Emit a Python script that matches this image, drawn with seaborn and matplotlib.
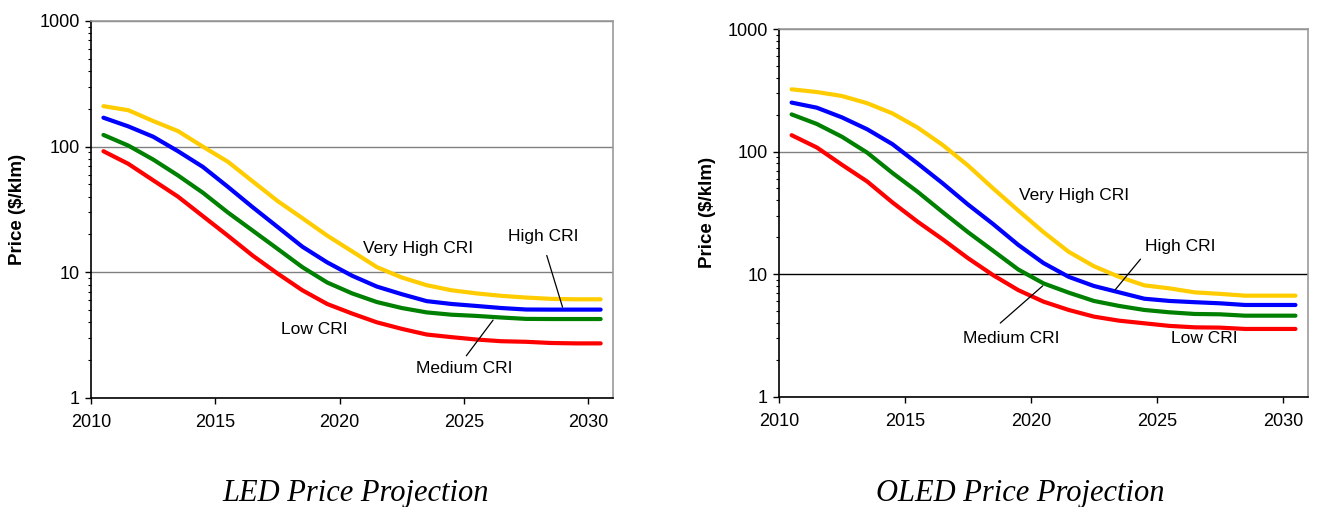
import numpy as np
import pandas as pd
import matplotlib
matplotlib.use("Agg")
import matplotlib.pyplot as plt
import seaborn as sns
from matplotlib.ticker import LogLocator, NullFormatter, FixedLocator

# data (mid-year points, 2010.5 .. 2030.5)
years = [2010.5 + i for i in range(21)]
cri_levels = ["Very High CRI", "High CRI", "Medium CRI", "Low CRI"]
colors = {"Very High CRI": "#FFCC00", "High CRI": "#0000FF",
          "Medium CRI": "#008000", "Low CRI": "#FF0000"}

led_very_high = [210, 195, 160, 133, 100, 76, 53, 37, 27, 19.6, 14.7, 11.0,
                 9.1, 7.9, 7.2, 6.8, 6.5, 6.3, 6.15, 6.1, 6.1]
led_high = [170, 145, 120, 92, 69, 48, 33, 23, 16, 12, 9.4, 7.7,
            6.7, 5.9, 5.6, 5.4, 5.2, 5.06, 5.05, 5.05, 5.05]
led_medium = [124, 102, 79, 59, 43, 30, 21.5, 15.4, 11, 8.3, 6.8, 5.8,
              5.2, 4.8, 4.6, 4.5, 4.37, 4.26, 4.25, 4.25, 4.25]
led_low = [92, 73, 54, 40, 28, 19.6, 13.6, 9.8, 7.2, 5.6, 4.7, 4.0,
           3.55, 3.2, 3.05, 2.92, 2.83, 2.8, 2.74, 2.72, 2.72]

oled_very_high = [322, 306, 284, 248, 205, 157, 113, 77, 50, 33, 22, 15.2,
                  11.6, 9.5, 8.1, 7.65, 7.1, 6.9, 6.67, 6.67, 6.67]
oled_high = [251, 228, 190, 152, 115, 80, 55, 37, 25.6, 17.3, 12.3, 9.5,
             8.0, 7.1, 6.3, 6.04, 5.9, 5.78, 5.6, 5.6, 5.6]
oled_medium = [201, 168, 132, 98, 67, 47, 32, 22, 15.5, 10.9, 8.4, 7.06,
               6.04, 5.5, 5.1, 4.88, 4.73, 4.7, 4.58, 4.58, 4.58]
oled_low = [136, 108, 78, 57, 38.5, 26.8, 19.2, 13.5, 9.8, 7.4, 5.96, 5.1,
            4.5, 4.17, 3.97, 3.78, 3.68, 3.66, 3.57, 3.57, 3.57]

x_ticks = [2010, 2015, 2020, 2025, 2030]
y_ticks = [1, 10, 100, 1000]


def long_frame(series):
    rows = []
    for name, vals in zip(cri_levels, series):
        for yr, v in zip(years, vals):
            rows.append({"year": yr, "price": v, "cri": name})
    return pd.DataFrame(rows)


led_df = long_frame([led_very_high, led_high, led_medium, led_low])
oled_df = long_frame([oled_very_high, oled_high, oled_medium, oled_low])

sns.set_style("white")
plt.rcParams["font.family"] = ["Liberation Sans", "DejaVu Sans"]
plt.rcParams["text.color"] = "black"
plt.rcParams["axes.labelcolor"] = "black"
plt.rcParams["xtick.color"] = "black"
plt.rcParams["ytick.color"] = "black"

fig = plt.figure(figsize=(13.19, 5.07), dpi=100)
ax1 = fig.add_axes([0.0690, 0.2150, 0.3958, 0.7436])
ax2 = fig.add_axes([0.5906, 0.2176, 0.4011, 0.7252])


def style_axis(ax, df, black_ten=False):
    sns.lineplot(data=df, x="year", y="price", hue="cri", palette=colors,
                 hue_order=cri_levels, linewidth=3, legend=False, ax=ax,
                 solid_capstyle="round")
    ax.set_yscale("log")
    ax.set_ylim(1, 1000)
    ax.set_xlim(2010, 2031)
    ax.xaxis.set_major_locator(FixedLocator(x_ticks))
    ax.set_yticks(y_ticks)
    ax.set_yticklabels([str(t) for t in y_ticks])
    ax.yaxis.set_minor_locator(LogLocator(base=10, subs=np.arange(2, 10)))
    ax.yaxis.set_minor_formatter(NullFormatter())
    ax.tick_params(axis="both", which="major", direction="out", length=4,
                   width=1, color="black", labelcolor="black", labelsize=13,
                   pad=4, left=True, bottom=True)
    ax.tick_params(axis="y", which="minor", direction="out", length=2.5,
                   width=0.8, color="black", left=True)
    ax.tick_params(axis="x", pad=7.5)
    for side in ["left", "bottom"]:
        ax.spines[side].set_color("black")
        ax.spines[side].set_linewidth(1.2)
    for side in ["top", "right"]:
        ax.spines[side].set_color("#999999")
        ax.spines[side].set_linewidth(1.2)
    ax.grid(axis="y", which="major", color="#808080", linewidth=1)
    if black_ten:
        for val, gl in zip(ax.get_yticks(), ax.yaxis.get_gridlines()):
            if val == 10:
                gl.set_color("black")
    ax.set_xlabel("")
    ax.set_ylabel("Price ($/klm)", fontsize=13.5, fontweight="bold",
                  color="black")


style_axis(ax1, led_df)
style_axis(ax2, oled_df, black_ten=True)
ax1.yaxis.set_label_coords(-0.1245, 0.5)
ax2.yaxis.set_label_coords(-0.119, 0.5)

txt = dict(fontsize=12.5, ha="center", va="center", color="black")
line = dict(arrowstyle="-", color="black", lw=0.9)

# LED annotations
ax1.text(2023.15, 15.4, "Very High CRI", **txt)
ax1.text(2028.2, 19.2, "High CRI", **txt)
ax1.annotate("", xy=(2029.0, 5.03), xytext=(2028.3, 14.3), arrowprops=line)
ax1.text(2019.0, 3.49, "Low CRI", **txt)
ax1.text(2025.0, 1.73, "Medium CRI", **txt)
ax1.annotate("", xy=(2026.24, 4.34), xytext=(2025.03, 2.08), arrowprops=line)

# OLED annotations
ax2.text(2021.7, 43.4, "Very High CRI", **txt)
ax2.text(2025.93, 16.9, "High CRI", **txt)
ax2.annotate("", xy=(2023.27, 7.14), xytext=(2024.42, 13.8), arrowprops=line)
ax2.text(2019.2, 3.01, "Medium CRI", **txt)
ax2.annotate("", xy=(2020.55, 8.3), xytext=(2018.7, 3.85), arrowprops=line)
ax2.text(2026.9, 3.01, "Low CRI", **txt)

title_kw = dict(fontsize=22, style="italic", ha="center", va="baseline",
                color="black", family=["Liberation Serif", "DejaVu Serif"])
fig.text(356 / 1319, 1 - 501 / 507, "LED Price Projection", **title_kw)
fig.text(1020 / 1319, 1 - 501 / 507, "OLED Price Projection", **title_kw)

fig.savefig("out.png", dpi=100)
